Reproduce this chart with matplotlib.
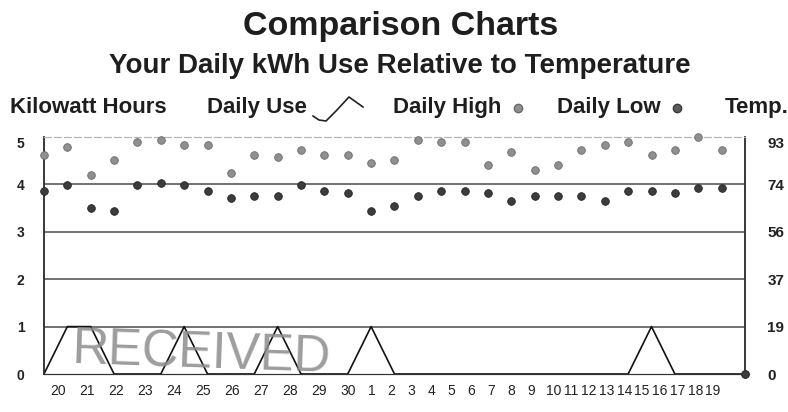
import numpy as np
import matplotlib
matplotlib.use('Agg')
import matplotlib.pyplot as plt
from matplotlib.lines import Line2D

plt.rcParams['font.family'] = ['Liberation Sans', 'DejaVu Sans']
NARROW = ['Liberation Sans Narrow', 'Liberation Sans']

# billing period days (20th of the month through the 19th of the next)
day_labels = [str(d) for d in range(20, 31)] + [str(d) for d in range(1, 20)]

# daily kWh use (31 points, last one closes the chart at 0)
kwh_use = [0, 1, 1, 0, 0, 0, 1, 0, 0, 0, 1, 0, 0, 0, 1, 0,
           0, 0, 0, 0, 0, 0, 0, 0, 0, 0, 1, 0, 0, 0, 0]

# daily high / low temperature (F)
temp_high = [86, 89, 78, 84, 91, 92, 90, 90, 79, 86, 85, 88, 86, 86, 83, 84,
             92, 91, 91, 82, 87, 80, 82, 88, 90, 91, 86, 88, 93, 88, 0]
temp_low = [72, 74, 65, 64, 74, 75, 74, 72, 69, 70, 70, 74, 72, 71, 64, 66,
            70, 72, 72, 71, 68, 70, 70, 70, 68, 72, 72, 71, 73, 73, 0]

kwh_ticks = [0, 1, 2, 3, 4, 5]
temp_ticks = [0, 19, 37, 56, 74, 93]
temp_max = 93

x = np.arange(len(kwh_use))

fig = plt.figure(figsize=(7.88, 4.12), dpi=100)
ax = fig.add_axes([0.0558, 0.0922, 0.8896, 0.5752])
ax2 = ax.twinx()

# grid lines at kWh 1..4
for v in kwh_ticks[1:-1]:
    ax.axhline(v, color='#4a4a4a', lw=1.1, zorder=1)

ax.plot(x, kwh_use, color='#111111', lw=1.2, zorder=3, clip_on=False)

ax2.plot(x, temp_high, 'o', color='#8f8f8f', ms=5.5, mec='#6a6a6a', mew=0.6,
         zorder=4, clip_on=False)
ax2.plot(x, temp_low, 'o', color='#3c3c3c', ms=5.5, mec='#222222', mew=0.6,
         zorder=4, clip_on=False)

ax.set_xlim(0, len(kwh_use) - 1)
ax.set_ylim(0, 5)
ax2.set_ylim(0, temp_max)

ax.set_yticks(kwh_ticks)
ax.set_yticklabels([str(v) for v in kwh_ticks], family=NARROW,
                   fontsize=10, fontweight='bold', color='#222222')
ax2.set_yticks([v * temp_max / 5 for v in kwh_ticks])
ax2.set_yticklabels([str(v) for v in temp_ticks], family=NARROW,
                    fontsize=11, fontweight='bold', color='#222222')
ax.tick_params(axis='y', length=0, pad=14)
ax2.tick_params(axis='y', length=0, pad=16)
ax.get_yticklabels()[-1].set_va('top')
ax2.get_yticklabels()[-1].set_va('top')

# day labels sit in a text row that does not line up with the points
px_to_x = lambda p: (np.asarray(p) - 43) / 23.4
label_px = np.concatenate([np.linspace(57, 348, 11),
                           np.linspace(371, 531, 9),
                           np.linspace(553, 713, 10)])
ax.set_xticks(px_to_x(label_px))
ax.set_xticklabels(day_labels, family=NARROW, fontsize=10, color='#222222')
ax.tick_params(axis='x', length=0, pad=7)

for a in (ax, ax2):
    a.spines['top'].set_color('#b5b5b5')
    a.spines['top'].set_linestyle((0, (6, 3)))
    a.spines['bottom'].set_color('#333333')
    a.spines['left'].set_color('#333333')
    a.spines['right'].set_color('#333333')
    a.spines['left'].set_linewidth(1.1)
    a.spines['right'].set_linewidth(1.1)

# titles
fig.text(0.508, 0.915, 'Comparison Charts', ha='center', va='baseline',
         fontsize=24.5, fontweight='bold', color='#1e1e1e')
fig.text(0.508, 0.823, 'Your Daily kWh Use Relative to Temperature',
         ha='center', va='baseline', fontsize=20, fontweight='bold', color='#1e1e1e')

# legend row
ly = 0.726
legend_font = dict(fontsize=16, fontweight='bold', va='baseline', color='#1e1e1e')
fig.text(0.0127, ly, 'Kilowatt Hours', **legend_font)
fig.text(0.2627, ly, 'Daily Use', **legend_font)
fig.text(0.4987, ly, 'Daily High', **legend_font)
fig.text(0.707, ly, 'Daily Low', **legend_font)
fig.text(0.920, ly, 'Temp.', **legend_font)

icon_x = np.array([313, 319, 326, 336, 349, 356, 363]) / 788
icon_y = 1 - np.array([116, 120, 121, 111, 97, 102, 107]) / 412
fig.add_artist(Line2D(icon_x, icon_y, color='#222222', lw=1.2, transform=fig.transFigure))
fig.add_artist(Line2D([518 / 788], [1 - 108 / 412], marker='o', ms=6, color='#8f8f8f',
                      mec='#6a6a6a', transform=fig.transFigure))
fig.add_artist(Line2D([677 / 788], [1 - 108 / 412], marker='o', ms=6, color='#5a5a5a',
                      mec='#3a3a3a', transform=fig.transFigure))

# scanned "RECEIVED" stamp over the chart
fig.text(72 / 788, 1 - 373 / 412, 'RECEIVED', fontsize=36.5, color='#8c8c8c',
         va='baseline', ha='left', rotation=-2, zorder=5, alpha=0.85)

fig.savefig('out.png', dpi=100)
